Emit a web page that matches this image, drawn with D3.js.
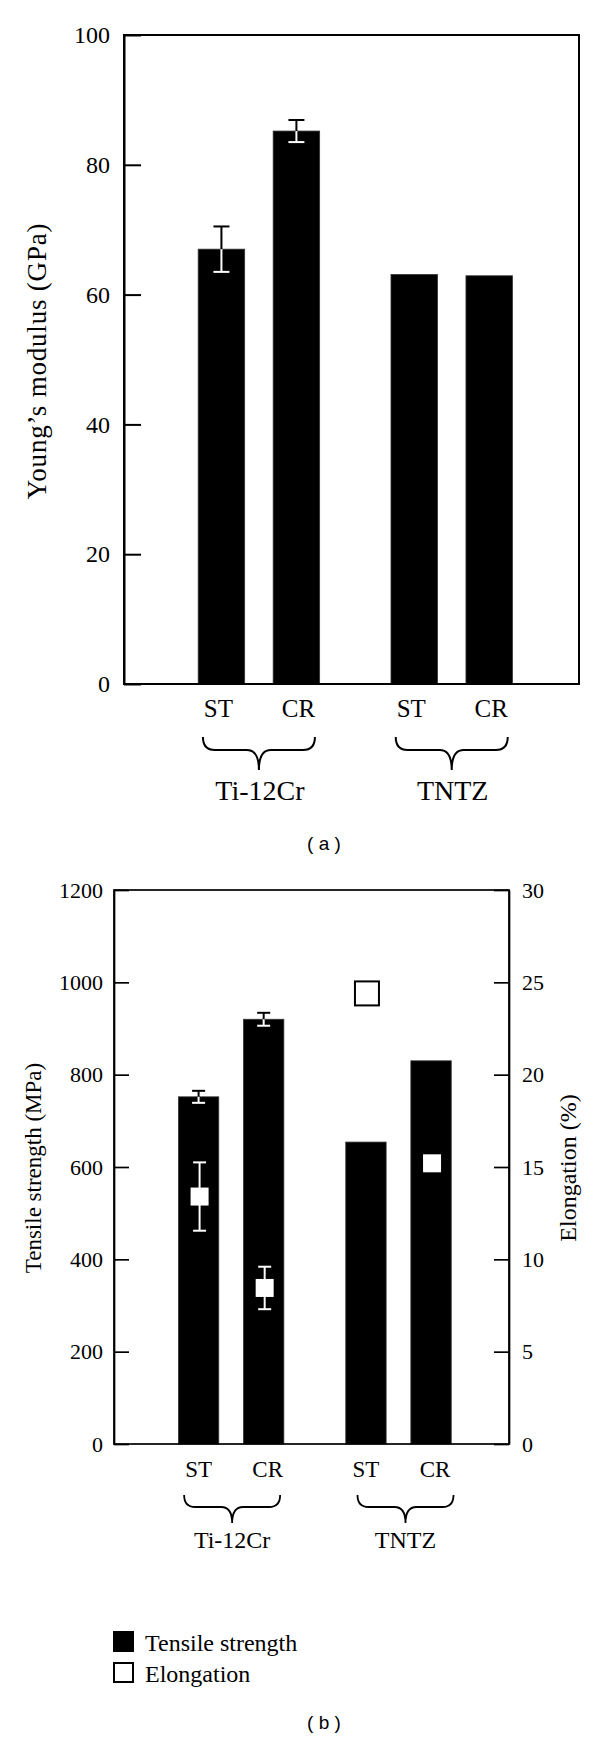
<!DOCTYPE html>
<html>
<head>
<meta charset="utf-8">
<script src="https://cdn.jsdelivr.net/npm/d3@7"></script>
<style>
  html, body { margin: 0; padding: 0; background: #fff; }
  svg { display: block; }
</style>
</head>
<body>
<script>
// ---------------- DATA ----------------
const groups = ["Ti-12Cr", "TNTZ"];
const conditions = ["ST", "CR"];
// order: Ti-12Cr ST, Ti-12Cr CR, TNTZ ST, TNTZ CR
const youngModulus = [67.0, 85.2, 63.1, 62.9];
const youngErr = [3.5, 1.7, 0, 0];
const tensileStrength = [752, 920, 654, 830];
const tensileErr = [13, 14, 0, 0];
const elongation = [13.4, 8.45, 24.4, 15.2];
const elongationErr = [1.85, 1.15, 0, 0];
const youngTicks = [0, 20, 40, 60, 80, 100];
const tensileTicks = [0, 200, 400, 600, 800, 1000, 1200];
const elongTicks = [0, 5, 10, 15, 20, 25, 30];
const legendLabels = ["Tensile strength", "Elongation"];
const panelLabels = ["( a )", "( b )"];
const yLabelA = "Young\u2019s modulus (GPa)";
const yLabelB = "Tensile strength (MPa)";
const yLabelB2 = "Elongation (%)";

// ---------------- SETUP ----------------
const W = 600, H = 1737;
const SERIF = "'Liberation Serif', 'Times New Roman', serif";
const SANS = "'Liberation Sans', Arial, sans-serif";
const svg = d3.select("body").append("svg").attr("width", W).attr("height", H);
svg.append("rect").attr("width", W).attr("height", H).attr("fill", "#fff");

const records = groups.flatMap((g, gi) => conditions.map((c, ci) => ({ g, c, i: gi * conditions.length + ci })));

function groupedX(x0, x1) {
  const outer = d3.scaleBand().domain(groups).range([x0, x1]).paddingInner(0.3).paddingOuter(0.33).align(0.53);
  const inner = d3.scaleBand().domain(conditions).range([0, outer.bandwidth()]).paddingInner(0.38).paddingOuter(0.09);
  return { outer, inner, cx: d => outer(d.g) + inner(d.c) + inner.bandwidth() / 2, x: d => outer(d.g) + inner(d.c) };
}

function bracePath(xc, half, yTop, yMid, yTip, r) {
  return `M${xc - half},${yTop} Q${xc - half},${yMid} ${xc - half + r},${yMid} L${xc - r},${yMid} Q${xc},${yMid} ${xc},${yTip}` +
         ` Q${xc},${yMid} ${xc + r},${yMid} L${xc + half - r},${yMid} Q${xc + half},${yMid} ${xc + half},${yTop}`;
}

// error bar: white inside the black bar, black outside it
function errorBar(g, cx, pyHi, pyLo, barTopPy, cap, sw) {
  const col = py => (py > barTopPy + 0.5 ? "#fff" : "#000");
  const segs = [];
  if (pyLo <= barTopPy) segs.push([pyHi, pyLo, "#000"]);
  else if (pyHi >= barTopPy) segs.push([pyHi, pyLo, "#fff"]);
  else { segs.push([pyHi, barTopPy, "#000"]); segs.push([barTopPy, pyLo, "#fff"]); }
  segs.forEach(s => g.append("line").attr("x1", cx).attr("x2", cx).attr("y1", s[0]).attr("y2", s[1])
    .attr("stroke", s[2]).attr("stroke-width", sw));
  [pyHi, pyLo].forEach(py => g.append("line").attr("x1", cx - cap / 2).attr("x2", cx + cap / 2)
    .attr("y1", py).attr("y2", py).attr("stroke", col(py)).attr("stroke-width", sw));
}

function styleAxis(sel, sw, fs) {
  sel.attr("font-family", SERIF).attr("font-size", fs);
  sel.selectAll("path.domain").attr("stroke", "#000").attr("stroke-width", sw);
  sel.selectAll(".tick line").attr("stroke", "#000").attr("stroke-width", sw);
  sel.selectAll(".tick text").attr("fill", "#000").attr("font-family", SERIF).attr("font-size", fs);
}

// ---------------- CHART A ----------------
(function () {
  const L = 124, R = 579, T = 35, B = 684;
  const y = d3.scaleLinear().domain([0, 100]).range([B, T]);
  const xs = groupedX(L, R);
  const g = svg.append("g");

  g.selectAll("rect.bar").data(records).join("rect").attr("class", "bar")
    .attr("x", d => xs.x(d)).attr("width", xs.inner.bandwidth())
    .attr("y", d => y(youngModulus[d.i])).attr("height", d => y(0) - y(youngModulus[d.i]))
    .attr("fill", "#000").attr("stroke", "#333").attr("stroke-width", 0.8);

  records.forEach(d => {
    const e = youngErr[d.i];
    if (e > 0) errorBar(g, xs.cx(d), y(youngModulus[d.i] + e), y(youngModulus[d.i] - e), y(youngModulus[d.i]), 16, 2);
  });

  g.append("rect").attr("x", L).attr("y", T).attr("width", R - L).attr("height", B - T)
    .attr("fill", "none").attr("stroke", "#000").attr("stroke-width", 2);

  const ax = g.append("g").attr("transform", `translate(${L},0)`)
    .call(d3.axisLeft(y).tickValues(youngTicks).tickFormat(d3.format("d")).tickSizeInner(-17).tickSizeOuter(0).tickPadding(14));
  styleAxis(ax, 2, 24);

  g.selectAll("text.cat").data(records).join("text").attr("class", "cat")
    .attr("x", d => xs.cx(d) + (d.c === conditions[0] ? -3 : 2)).attr("y", 717).attr("text-anchor", "middle")
    .attr("font-family", SERIF).attr("font-size", 25).text(d => d.c);

  groups.forEach(gr => {
    const c = xs.outer(gr) + xs.outer.bandwidth() / 2;
    g.append("path").attr("d", bracePath(c, 56, 737, 750, 770, 12))
      .attr("fill", "none").attr("stroke", "#000").attr("stroke-width", 2);
    g.append("text").attr("x", c + 1).attr("y", 800).attr("text-anchor", "middle")
      .attr("font-family", SERIF).attr("font-size", 28).text(gr);
  });

  g.append("text").attr("transform", `translate(37,361) rotate(-90)`)
    .attr("text-anchor", "middle").attr("dominant-baseline", "central")
    .attr("font-family", SERIF).attr("font-size", 27).attr("letter-spacing", 0.8).text(yLabelA);

  g.append("text").attr("x", 324).attr("y", 843).attr("text-anchor", "middle").attr("dominant-baseline", "central")
    .attr("font-family", SANS).attr("font-size", 19).text(panelLabels[0]);
})();

// ---------------- CHART B ----------------
(function () {
  const L = 114, R = 509, T = 890, B = 1444;
  const y = d3.scaleLinear().domain([0, 1200]).range([B, T]);
  const y2 = d3.scaleLinear().domain([0, 30]).range([B, T]);
  const xs = groupedX(L, R);
  const g = svg.append("g");

  g.selectAll("rect.bar").data(records).join("rect").attr("class", "bar")
    .attr("x", d => xs.x(d)).attr("width", xs.inner.bandwidth())
    .attr("y", d => y(tensileStrength[d.i])).attr("height", d => y(0) - y(tensileStrength[d.i]))
    .attr("fill", "#000").attr("stroke", "#333").attr("stroke-width", 0.8);

  records.forEach(d => {
    const e = tensileErr[d.i];
    if (e > 0) errorBar(g, xs.cx(d), y(tensileStrength[d.i] + e), y(tensileStrength[d.i] - e), y(tensileStrength[d.i]), 13, 2);
  });

  records.forEach(d => {
    const e = elongationErr[d.i];
    if (e > 0) errorBar(g, xs.cx(d) + 1, y2(elongation[d.i] + e), y2(elongation[d.i] - e), y(tensileStrength[d.i]), 13, 2);
  });

  // elongation markers: white square inside the bar, open square above it
  records.forEach(d => {
    const cy = y2(elongation[d.i]);
    const inside = cy > y(tensileStrength[d.i]) + 12;
    const s = inside ? 18 : 24;
    g.append("rect").attr("x", xs.cx(d) + 1 - s / 2).attr("y", cy - s / 2).attr("width", s).attr("height", s)
      .attr("fill", "#fff").attr("stroke", inside ? "none" : "#000").attr("stroke-width", 2);
  });

  g.append("rect").attr("x", L).attr("y", T).attr("width", R - L).attr("height", B - T)
    .attr("fill", "none").attr("stroke", "#000").attr("stroke-width", 1.7);

  const axL = g.append("g").attr("transform", `translate(${L},0)`)
    .call(d3.axisLeft(y).tickValues(tensileTicks).tickFormat(d3.format("d")).tickSizeInner(-15).tickSizeOuter(0).tickPadding(11));
  styleAxis(axL, 1.7, 22);
  const axR = g.append("g").attr("transform", `translate(${R},0)`)
    .call(d3.axisRight(y2).tickValues(elongTicks).tickFormat(d3.format("d")).tickSizeInner(-15).tickSizeOuter(0).tickPadding(13));
  styleAxis(axR, 1.7, 22);

  g.selectAll("text.cat").data(records).join("text").attr("class", "cat")
    .attr("x", d => xs.cx(d) + (d.c === conditions[1] ? 4 : 0)).attr("y", 1477).attr("text-anchor", "middle")
    .attr("font-family", SERIF).attr("font-size", 23).text(d => d.c);

  groups.forEach((gr, gi) => {
    const c = xs.outer(gr) + xs.outer.bandwidth() / 2 + (gi ? 7 : 1);
    g.append("path").attr("d", bracePath(c, 48, 1495, 1507, 1523, 11))
      .attr("fill", "none").attr("stroke", "#000").attr("stroke-width", 1.8);
    g.append("text").attr("x", c).attr("y", 1548).attr("text-anchor", "middle")
      .attr("font-family", SERIF).attr("font-size", 24).text(gr);
  });

  g.append("text").attr("transform", `translate(33,1168) rotate(-90)`)
    .attr("text-anchor", "middle").attr("dominant-baseline", "central")
    .attr("font-family", SERIF).attr("font-size", 23).text(yLabelB);
  g.append("text").attr("transform", `translate(568,1168) rotate(-90)`)
    .attr("text-anchor", "middle").attr("dominant-baseline", "central")
    .attr("font-family", SERIF).attr("font-size", 24).text(yLabelB2);

  // legend
  const lg = g.append("g");
  legendLabels.forEach((lab, k) => {
    const ly = 1631 + k * 31;
    lg.append("rect").attr("x", k ? 114 : 113).attr("y", k ? ly + 1 : ly).attr("width", k ? 19 : 21).attr("height", k ? 19 : 21)
      .attr("fill", k ? "#fff" : "#000").attr("stroke", "#000").attr("stroke-width", k ? 2 : 0);
    lg.append("text").attr("x", 145).attr("y", ly + 19.5).attr("font-family", SERIF).attr("font-size", 24).text(lab);
  });

  g.append("text").attr("x", 324).attr("y", 1722).attr("text-anchor", "middle").attr("dominant-baseline", "central")
    .attr("font-family", SANS).attr("font-size", 19).text(panelLabels[1]);
})();
</script>
</body>
</html>
